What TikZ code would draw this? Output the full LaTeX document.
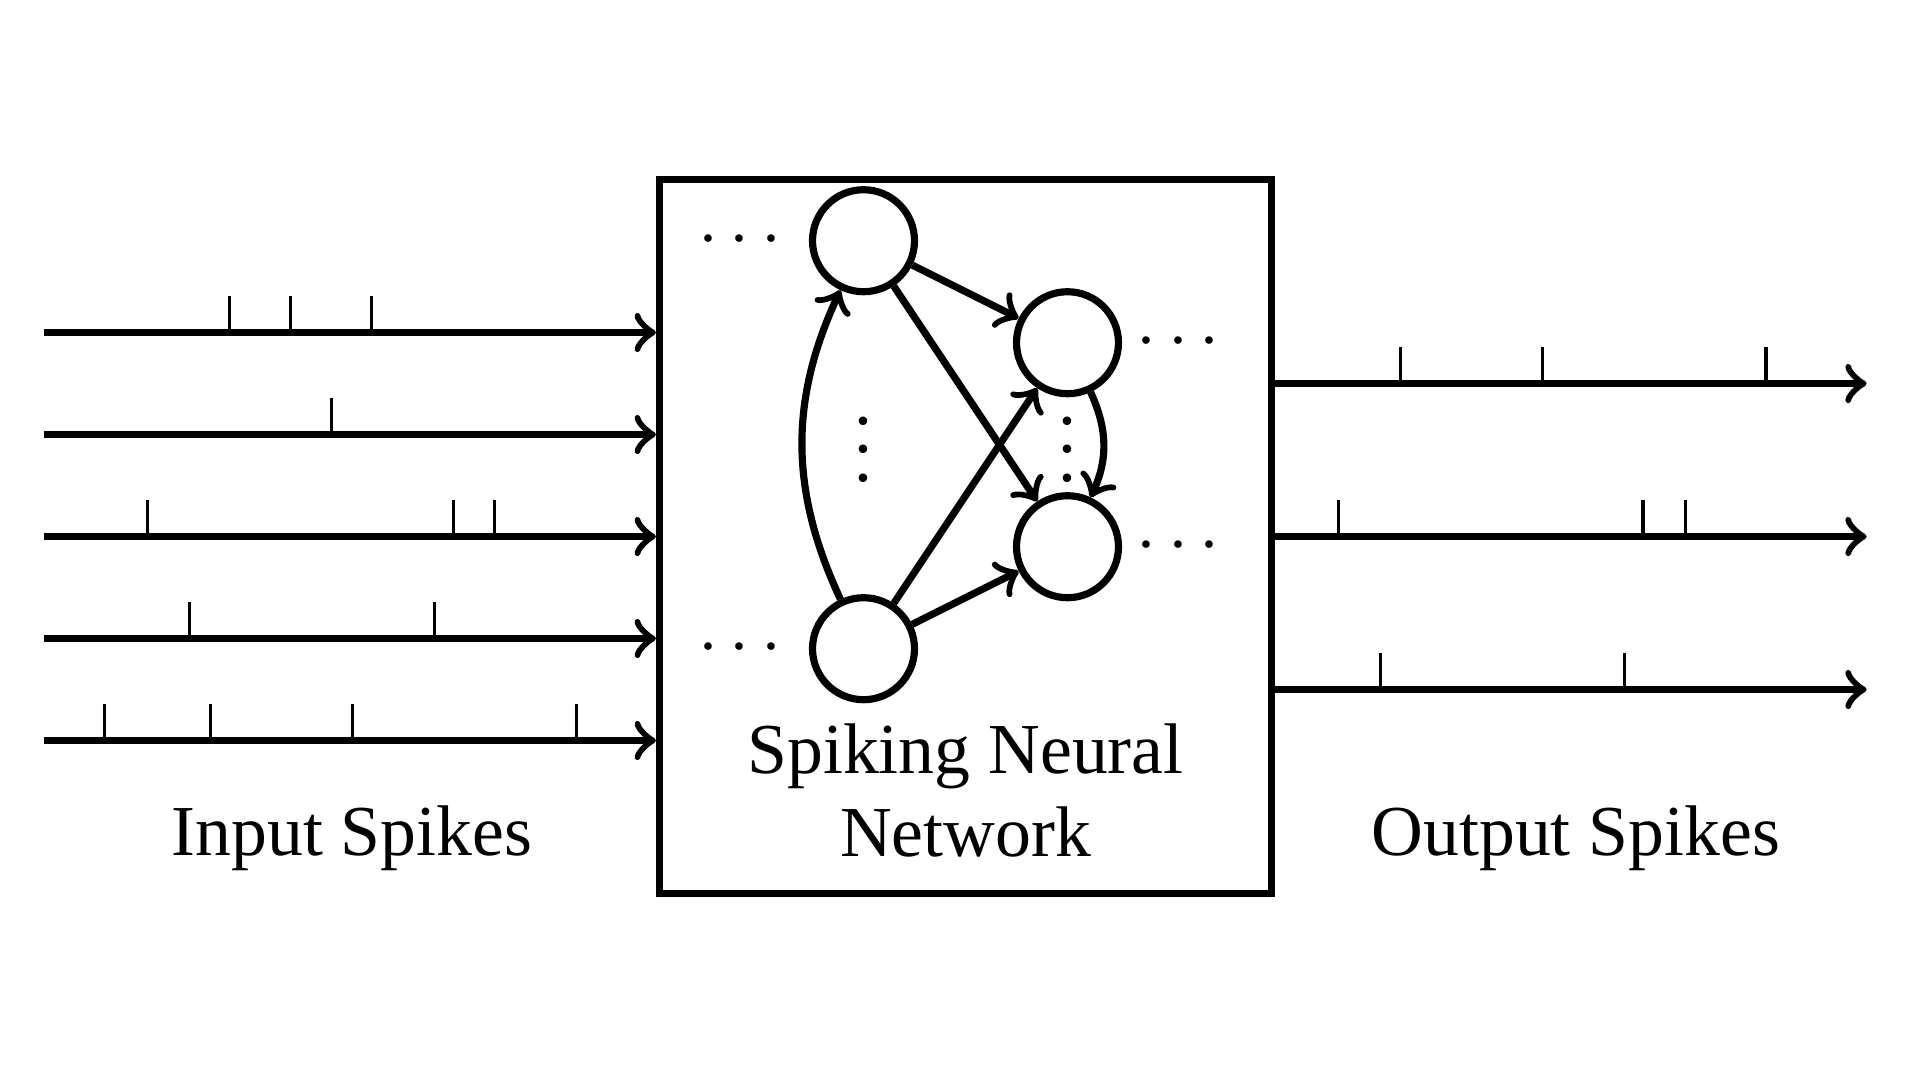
\documentclass[tikz,border=0pt]{standalone}
\usepackage{fontspec}
\setmainfont{Liberation Serif}
\usepackage{amsmath}
\usetikzlibrary{positioning, calc}

\begin{document}
\begin{tikzpicture}[font=\fontsize{10}{11.6}\selectfont, line width=1pt,
	neuron/.style={draw, circle, minimum size=0.5cm, inner sep=0pt},
	spikemark/.style={line width=0.45pt}]
	\def\L{3}
	\def\S{0.18}
	\useasboundingbox (0,0) rectangle (9.412,5.294);
	
	% network box
	\node[draw, minimum width=3cm, minimum height=3.5cm, inner sep=0pt] (snn) at (4.733,2.664) {};
	
	% input spike trains
	\foreach \k/\xs in {1/{0.908,1.207,1.605}, 2/{1.408}, 3/{0.506,2.006,2.207}, 4/{0.712,1.913}, 5/{0.296,0.815,1.511,2.609}} {
		\coordinate (in\k) at ($(snn.west)+(-\L,1.5-0.5*\k)$);
		\draw[->] (in\k) -- (in\k -| snn.west);
		\foreach \x in \xs
			\draw[spikemark] ($(in\k)+(\x,0)$) -- ++(0,\S);
	}
	
	% output spike trains
	\foreach \k/\xs in {1/{0.613,1.309,2.407}, 2/{0.309,1.804,2.010}, 3/{0.515,1.711}} {
		\coordinate (out\k) at ($(snn.east)+(0,1.5-0.75*\k)$);
		\coordinate (outEnd\k) at ($(out\k)+(2.9,0)$);
		\draw[->] (out\k) -- (outEnd\k);
		\foreach \x in \xs
			\draw[spikemark] ($(out\k)+(\x,0)$) -- ++(0,\S);
	}
	
	% neurons
	\node[neuron] (A) at ($(snn.center)+(-0.5,1.45)$) {};
	\node[neuron] (B) at ($(A)+(0,-2)$) {};
	\node[neuron] (C) at ($(A)+(1,-0.5)$) {};
	\node[neuron] (D) at ($(C)+(0,-1)$) {};
	
	\draw[->] (A) -- (C);
	\draw[->] (A) -- (D);
	\draw[->] (B) -- (C);
	\draw[->] (B) -- (D);
	\draw[->] (B) to[bend left=25] (A);
	\draw[->] (C) to[bend left=25] (D);
	
	\node[left=-0.06cm of A] (dotsA) {$\cdots$};
	\node[left=-0.06cm of B] (dotsB) {$\cdots$};
	\node[right=-0.065cm of C] (dotsC) {$\cdots$};
	\node[right=-0.065cm of D] (dotsD) {$\cdots$};
	\node[yshift=2.3pt] (vdotsL) at ($(A)!0.5!(B)$) {$\vdots$};
	\node[yshift=2.3pt] (vdotsR) at ($(C)!0.5!(D)$) {$\vdots$};
	
	% labels
	\node[anchor=base] (inLabel) at (1.725,1.098) {Input Spikes};
	\node[anchor=base] (outLabel) at (7.725,1.098) {Output Spikes};
	\node[anchor=base, align=center] (snnLabel) at (4.733,1.093) {Spiking Neural\\Network};
\end{tikzpicture}
\end{document}
